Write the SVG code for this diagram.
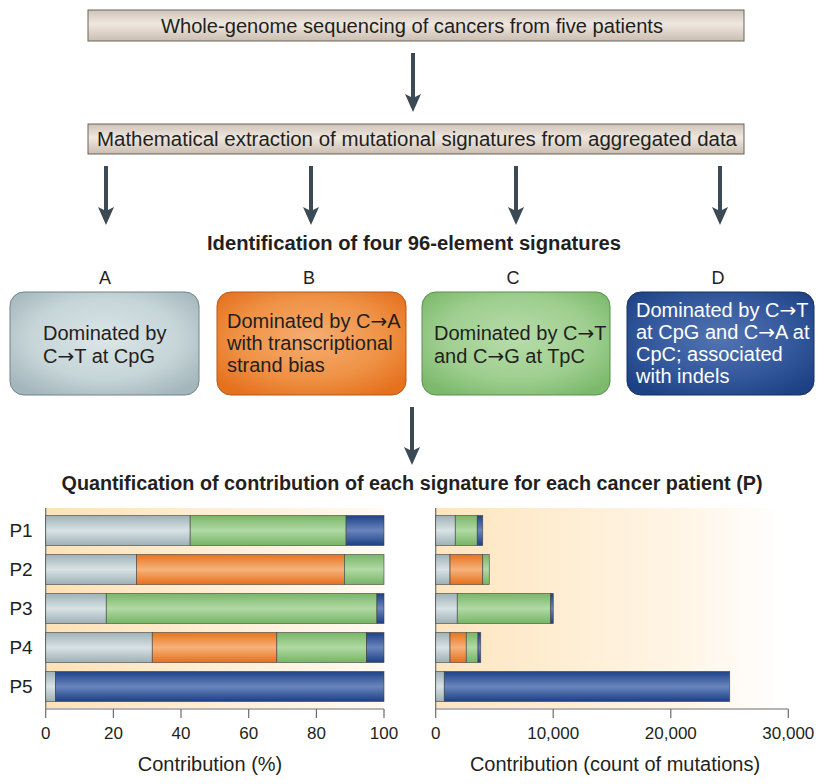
<svg xmlns="http://www.w3.org/2000/svg" width="825" height="784" viewBox="0 0 825 784">
<defs>
  <style>
    text { font-family: "Liberation Sans", Arial, sans-serif; fill: #231f20; }
    .hdr { font-size: 20px; text-anchor: middle; }
    .bold { font-size: 20px; font-weight: bold; text-anchor: middle; }
    .lab { font-size: 18px; text-anchor: middle; }
    .bt { font-size: 20px; }
    .ar { font-family: "DejaVu Sans", sans-serif; }
    .wt { fill: #ffffff; }
    .tick { font-size: 17px; text-anchor: middle; }
    .pl { font-size: 19px; text-anchor: middle; }
    .ax { font-size: 20px; text-anchor: middle; }
    .seg { stroke: #3a3a3a; stroke-width: 0.8; stroke-opacity: 0.7; }
    .axis { stroke: #6d6d6d; stroke-width: 1.2; fill: none; }
    .arr { fill: #3b4a55; }
  </style>
  <linearGradient id="gHead" x1="0" y1="0" x2="0" y2="1">
    <stop offset="0" stop-color="#cfc3b6"/>
    <stop offset="0.45" stop-color="#efe8e1"/>
    <stop offset="1" stop-color="#cbbdb0"/>
  </linearGradient>
  <radialGradient id="rA" cx="0.5" cy="0.45" r="0.65">
    <stop offset="0" stop-color="#dbe6e8"/>
    <stop offset="0.6" stop-color="#c6d5d8"/>
    <stop offset="1" stop-color="#a3b6bb"/>
  </radialGradient>
  <radialGradient id="rB" cx="0.5" cy="0.45" r="0.65">
    <stop offset="0" stop-color="#f6ad72"/>
    <stop offset="0.6" stop-color="#ef9245"/>
    <stop offset="1" stop-color="#e5701d"/>
  </radialGradient>
  <radialGradient id="rC" cx="0.5" cy="0.45" r="0.65">
    <stop offset="0" stop-color="#b7dcaa"/>
    <stop offset="0.6" stop-color="#9fcf90"/>
    <stop offset="1" stop-color="#7bb96b"/>
  </radialGradient>
  <radialGradient id="rD" cx="0.5" cy="0.45" r="0.65">
    <stop offset="0" stop-color="#5274b2"/>
    <stop offset="0.6" stop-color="#34589c"/>
    <stop offset="1" stop-color="#1d4185"/>
  </radialGradient>
  <linearGradient id="bG" x1="0" y1="0" x2="0" y2="1">
    <stop offset="0" stop-color="#9fb2b7"/>
    <stop offset="0.5" stop-color="#d8e2e4"/>
    <stop offset="1" stop-color="#9db0b5"/>
  </linearGradient>
  <linearGradient id="bO" x1="0" y1="0" x2="0" y2="1">
    <stop offset="0" stop-color="#e8731f"/>
    <stop offset="0.5" stop-color="#f6b27b"/>
    <stop offset="1" stop-color="#e66f1c"/>
  </linearGradient>
  <linearGradient id="bN" x1="0" y1="0" x2="0" y2="1">
    <stop offset="0" stop-color="#78b668"/>
    <stop offset="0.5" stop-color="#b1d9a4"/>
    <stop offset="1" stop-color="#76b466"/>
  </linearGradient>
  <linearGradient id="bB" x1="0" y1="0" x2="0" y2="1">
    <stop offset="0" stop-color="#1c4287"/>
    <stop offset="0.5" stop-color="#6a85bd"/>
    <stop offset="1" stop-color="#1b4084"/>
  </linearGradient>
  <linearGradient id="bgL" x1="0" y1="0" x2="1" y2="0">
    <stop offset="0" stop-color="#fde2b6"/>
    <stop offset="1" stop-color="#fffaf2"/>
  </linearGradient>
  <linearGradient id="bgR" x1="0" y1="0" x2="1" y2="0">
    <stop offset="0" stop-color="#fde5be"/>
    <stop offset="0.75" stop-color="#fff6e8"/>
    <stop offset="1" stop-color="#ffffff"/>
  </linearGradient>
</defs>

<rect width="825" height="784" fill="#ffffff"/>

<g id="node-sequencing">
  <rect x="88" y="10" width="656" height="31" fill="url(#gHead)" stroke="#6b625b" stroke-width="1"/>
  <text class="hdr" x="412" y="33" textLength="502" lengthAdjust="spacingAndGlyphs">Whole-genome sequencing of cancers from five patients</text>
</g>

<g id="node-extraction">
  <rect x="88" y="124" width="656" height="30" fill="url(#gHead)" stroke="#6b625b" stroke-width="1"/>
  <text class="hdr" x="417" y="146" textLength="640" lengthAdjust="spacingAndGlyphs">Mathematical extraction of mutational signatures from aggregated data</text>
</g>

<g id="title-identification">
  <text class="bold" x="414" y="250" textLength="414" lengthAdjust="spacingAndGlyphs">Identification of four 96-element signatures</text>
</g>

<g id="node-A">
  <text class="lab" x="105" y="284">A</text>
  <rect x="10" y="292" width="189" height="103" rx="14" fill="url(#rA)" stroke="#71848a" stroke-width="1"/>
  <text class="bt" x="43" y="340">Dominated by</text>
  <text class="bt" x="43" y="363">C<tspan class="ar">→</tspan>T at CpG</text>
</g>

<g id="node-B">
  <text class="lab" x="309" y="284">B</text>
  <rect x="217" y="292" width="189" height="103" rx="14" fill="url(#rB)" stroke="#b35a17" stroke-width="1"/>
  <text class="bt" x="227" y="328">Dominated by C<tspan class="ar">→</tspan>A</text>
  <text class="bt" x="227" y="350">with transcriptional</text>
  <text class="bt" x="227" y="372">strand bias</text>
</g>

<g id="node-C">
  <text class="lab" x="513" y="284">C</text>
  <rect x="422" y="292" width="188" height="103" rx="14" fill="url(#rC)" stroke="#5b8f4e" stroke-width="1"/>
  <text class="bt" x="434" y="340">Dominated by C<tspan class="ar">→</tspan>T</text>
  <text class="bt" x="434" y="363">and C<tspan class="ar">→</tspan>G at TpC</text>
</g>

<g id="node-D">
  <text class="lab" x="718" y="284">D</text>
  <rect x="627" y="292" width="187" height="103" rx="14" fill="url(#rD)" stroke="#16305f" stroke-width="1"/>
  <text class="bt wt" x="636" y="317">Dominated by C<tspan class="ar wt">→</tspan>T</text>
  <text class="bt wt" x="636" y="339">at CpG and C<tspan class="ar wt">→</tspan>A at</text>
  <text class="bt wt" x="636" y="361">CpC; associated</text>
  <text class="bt wt" x="636" y="383">with indels</text>
</g>

<g id="connectors">
  <path class="arr" d="M411,53 h4 v45 h-4 z M405,94 L413,98 L421,94 L413,112 Z"/>
  <path class="arr" d="M104,166 h4 v45 h-4 z M98,207 L106,211 L114,207 L106,225 Z"/>
  <path class="arr" d="M309,166 h4 v45 h-4 z M303,207 L311,211 L319,207 L311,225 Z"/>
  <path class="arr" d="M514,166 h4 v45 h-4 z M508,207 L516,211 L524,207 L516,225 Z"/>
  <path class="arr" d="M718,166 h4 v45 h-4 z M712,207 L720,211 L728,207 L720,225 Z"/>
  <path class="arr" d="M410,407 h4 v44 h-4 z M404,447 L412,451 L420,447 L412,465 Z"/>
</g>

<g id="title-quantification">
  <text class="bold" x="412" y="490" textLength="701" lengthAdjust="spacingAndGlyphs">Quantification of contribution of each signature for each cancer patient (P)</text>
</g>

<g id="chart-percent">
  <rect x="45.7" y="508" width="338.3" height="200" fill="url(#bgL)"/>
  <path class="axis" d="M45.7,508 V718 M45.7,709 H384 M113.4,709 V718 M181,709 V718 M248.7,709 V718 M316.4,709 V718 M384,709 V718"/>
  <g>
    <rect class="seg" x="45.7" y="515.5" width="144.5" height="30" fill="url(#bG)"/>
    <rect class="seg" x="190.2" y="515.5" width="155.9" height="30" fill="url(#bN)"/>
    <rect class="seg" x="346.1" y="515.5" width="37.9" height="30" fill="url(#bB)"/>

    <rect class="seg" x="45.7" y="554.5" width="90.7" height="30" fill="url(#bG)"/>
    <rect class="seg" x="136.4" y="554.5" width="208" height="30" fill="url(#bO)"/>
    <rect class="seg" x="344.4" y="554.5" width="39.6" height="30" fill="url(#bN)"/>

    <rect class="seg" x="45.7" y="593.5" width="60.6" height="30" fill="url(#bG)"/>
    <rect class="seg" x="106.3" y="593.5" width="270.6" height="30" fill="url(#bN)"/>
    <rect class="seg" x="376.9" y="593.5" width="7.1" height="30" fill="url(#bB)"/>

    <rect class="seg" x="45.7" y="632.5" width="106.6" height="30" fill="url(#bG)"/>
    <rect class="seg" x="152.3" y="632.5" width="124.5" height="30" fill="url(#bO)"/>
    <rect class="seg" x="276.8" y="632.5" width="89.6" height="30" fill="url(#bN)"/>
    <rect class="seg" x="366.4" y="632.5" width="17.6" height="30" fill="url(#bB)"/>

    <rect class="seg" x="45.7" y="671.5" width="9.8" height="30" fill="url(#bG)"/>
    <rect class="seg" x="55.5" y="671.5" width="328.5" height="30" fill="url(#bB)"/>
  </g>
  <text class="pl" x="21" y="537">P1</text>
  <text class="pl" x="21" y="576">P2</text>
  <text class="pl" x="21" y="615">P3</text>
  <text class="pl" x="21" y="654">P4</text>
  <text class="pl" x="21" y="693">P5</text>
  <text class="tick" x="45.7" y="739">0</text>
  <text class="tick" x="113.4" y="739">20</text>
  <text class="tick" x="181" y="739">40</text>
  <text class="tick" x="248.7" y="739">60</text>
  <text class="tick" x="316.4" y="739">80</text>
  <text class="tick" x="384" y="739">100</text>
  <text class="ax" x="210" y="771">Contribution (%)</text>
</g>

<g id="chart-count">
  <rect x="435.7" y="508" width="346" height="200" fill="url(#bgR)"/>
  <path class="axis" d="M435.7,508 V718 M435.7,709 H788.3 M553.2,709 V718 M670.8,709 V718 M788.3,709 V718"/>
  <g>
    <rect class="seg" x="435.7" y="515.5" width="19.6" height="30" fill="url(#bG)"/>
    <rect class="seg" x="455.3" y="515.5" width="22" height="30" fill="url(#bN)"/>
    <rect class="seg" x="477.3" y="515.5" width="5.4" height="30" fill="url(#bB)"/>

    <rect class="seg" x="435.7" y="554.5" width="14.3" height="30" fill="url(#bG)"/>
    <rect class="seg" x="450" y="554.5" width="32.7" height="30" fill="url(#bO)"/>
    <rect class="seg" x="482.7" y="554.5" width="6.6" height="30" fill="url(#bN)"/>

    <rect class="seg" x="435.7" y="593.5" width="21.6" height="30" fill="url(#bG)"/>
    <rect class="seg" x="457.3" y="593.5" width="93.4" height="30" fill="url(#bN)"/>
    <rect class="seg" x="550.7" y="593.5" width="2.6" height="30" fill="url(#bB)"/>

    <rect class="seg" x="435.7" y="632.5" width="14.3" height="30" fill="url(#bG)"/>
    <rect class="seg" x="450" y="632.5" width="16.3" height="30" fill="url(#bO)"/>
    <rect class="seg" x="466.3" y="632.5" width="11.7" height="30" fill="url(#bN)"/>
    <rect class="seg" x="478" y="632.5" width="2.7" height="30" fill="url(#bB)"/>

    <rect class="seg" x="435.7" y="671.5" width="8.6" height="30" fill="url(#bG)"/>
    <rect class="seg" x="444.3" y="671.5" width="285.4" height="30" fill="url(#bB)"/>
  </g>
  <text class="tick" x="435.7" y="739">0</text>
  <text class="tick" x="553.2" y="739">10,000</text>
  <text class="tick" x="670.8" y="739">20,000</text>
  <text class="tick" x="788.3" y="739">30,000</text>
  <text class="ax" x="615" y="771">Contribution (count of mutations)</text>
</g>
</svg>
